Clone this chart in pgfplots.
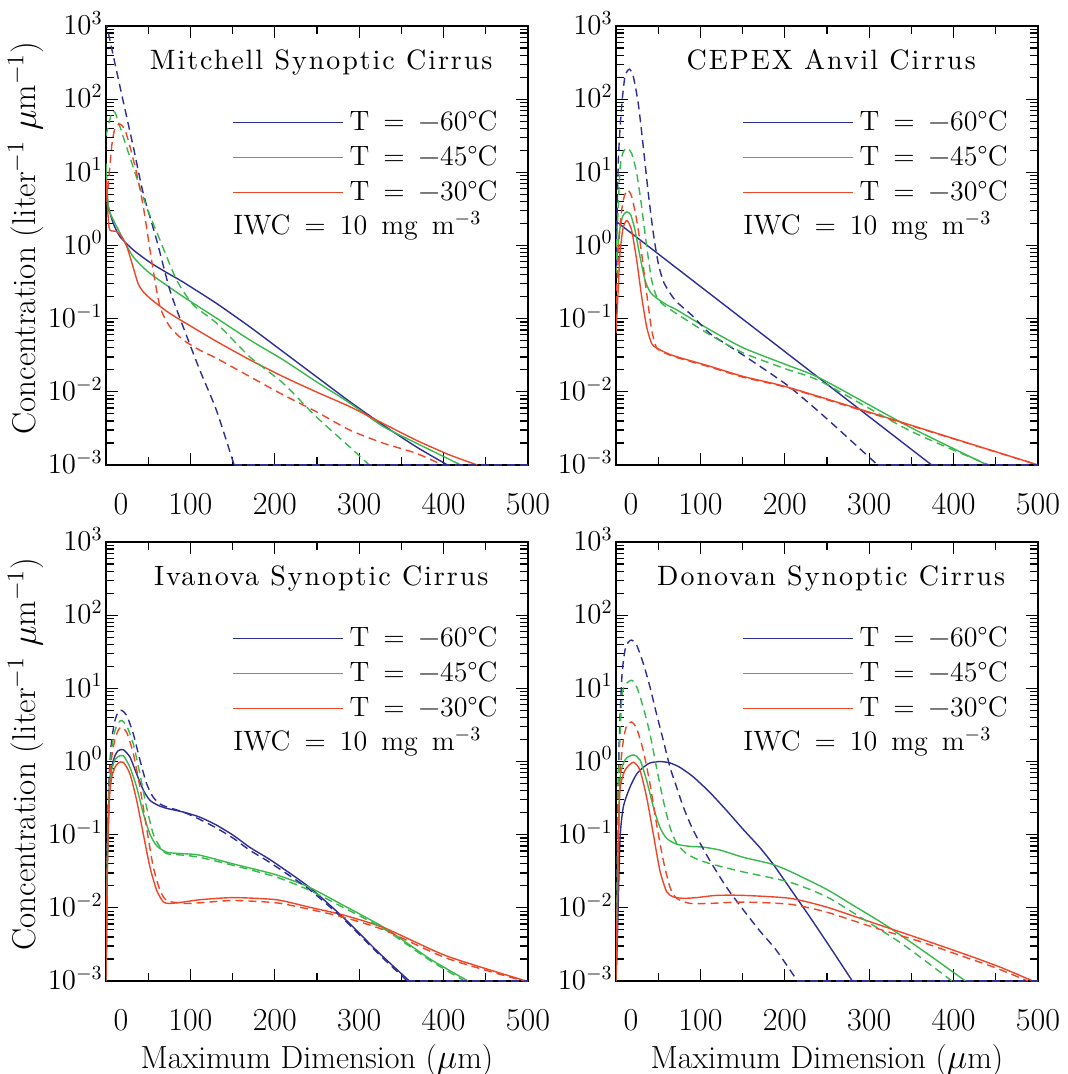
\documentclass[border=0pt]{standalone}
\usepackage{fontspec}
\usepackage{pgfplots}
\pgfplotsset{compat=1.18}
\usepgfplotslibrary{groupplots}
\newfontfamily\spfont{lmroman10-regular.otf}[LetterSpace=7]
\definecolor{cb}{RGB}{45,45,150}
\definecolor{cg}{RGB}{55,185,75}
\definecolor{cr}{RGB}{240,70,40}
\newcommand\fT{\fontsize{14}{16}\selectfont}
\pgfplotsset{
  sol/.style={line width=0.7pt, smooth, tension=0.4},
  das/.style={line width=0.7pt, smooth, tension=0.4, dash pattern=on 4pt off 2.5pt},
  flat/.style={line width=0.7pt, sharp plot, dash pattern=on 4pt off 2.5pt, forget plot},
}
\newcommand\panel[1]{%
  \node[font=\spfont\fontsize{14}{16}\selectfont, anchor=base] at (rel axis cs:0.51,0.902) {#1};
  \node[font=\fT, anchor=base west, inner sep=0pt] at (rel axis cs:0.301,0.524) {IWC\enspace=\enspace10\enspace mg\enspace m$^{-3}$};
}
\begin{document}
\begin{tikzpicture}
\begin{groupplot}[
  group style={group size=2 by 2, horizontal sep=44pt, vertical sep=38.5pt, group name=G},
  width=211pt, height=219.5pt, scale only axis,
  xmin=0, xmax=500, ymin=1e-3, ymax=1e3, ymode=log,
  xtick={0,100,200,300,400,500},
  xticklabels={\hspace*{15pt}0,100,200,300,400,500},
  minor x tick num=1,
  ytick={1e-3,1e-2,1e-1,1,1e1,1e2,1e3},
  tick align=inside, tick pos=both, xticklabel pos=lower, yticklabel pos=left,
  major tick length=6pt, minor tick length=4pt,
  every tick/.style={black, line width=0.6pt},
  axis line style={line width=0.7pt},
  xticklabel style={font=\fontsize{16}{18}\selectfont, anchor=base, yshift=-24.75pt},
  yticklabel style={font=\fontsize{13.75}{16}\selectfont, anchor=base east, yshift=-4.4pt, inner xsep=1.5pt},
  legend style={draw=none, fill=none, at={(rel axis cs:0.943,0.821)}, anchor=north east,
    inner sep=0pt, row sep=0pt, font=\fT,
    nodes={inner xsep=3pt, inner ysep=2.75pt, text height=10pt, text depth=2pt}},
  legend cell align=left,
  legend image code/.code={\draw[#1] (0pt,0pt) -- (55pt,0pt);},
]
% ---------------- Mitchell ----------------
\nextgroupplot[ylabel={Concentration (liter$^{-1}$ $\mu$m$^{-1}$)},
  ylabel style={at={([xshift=-35pt]rel axis cs:0,0.517)}, anchor=base, font=\fontsize{16.5}{18}\selectfont}]
\addplot[sol, cb] coordinates {(0,6.46)(2.8,3.39)(8.7,2.0)(16.6,1.32)(32.3,0.871)(52,0.589)(71.8,0.427)(91.4,0.316)(130.8,0.162)(170.2,0.0776)(209.6,0.0355)(249,0.0162)(288.4,0.00741)(327.8,0.00355)(367.3,0.00178)(404.6,0.001)};
\addlegendentry{T\enspace=\enspace−60°C}
\addplot[sol, cg] coordinates {(0,13.2)(2.8,3.39)(8.7,2.24)(16.6,1.48)(32,0.708)(52,0.417)(91.4,0.2)(130.8,0.102)(170.2,0.0513)(209.6,0.0275)(249,0.0138)(288.4,0.00708)(327.8,0.00339)(367.3,0.002)(420.4,0.001)};
\addlegendentry{T\enspace=\enspace−45°C}
\addplot[sol, cr] coordinates {(0,7.94)(2.8,2.24)(4.7,1.62)(12.6,1.55)(18.5,1.32)(24.5,0.977)(32,0.513)(38,0.302)(44,0.234)(52,0.19)(72,0.126)(91.4,0.0912)(130.8,0.049)(170.2,0.0275)(209.6,0.0162)(249,0.01)(288.4,0.00631)(327.8,0.00372)(367.3,0.00219)(406.6,0.00138)(440,0.001)};
\addlegendentry{T\enspace=\enspace−30°C}
\addplot[das, cb, forget plot] coordinates {(0,1200)(1.6,933)(16.6,148)(32.3,22.4)(44.2,5.13)(59.9,1.2)(75.7,0.245)(91.4,0.0776)(111,0.02)(130.8,0.00562)(151.8,0.001)};
\addplot[das, cg, forget plot] coordinates {(0,31.6)(6.7,64.6)(10.6,66.1)(16.6,41.7)(32,12.0)(48,3.39)(63.8,1.2)(83.6,0.339)(103.2,0.155)(130.8,0.0871)(170.2,0.0302)(209.6,0.0132)(249,0.00457)(288.4,0.00178)(312,0.001)};
\addplot[das, cr, forget plot] coordinates {(1,3.98)(6.7,22.4)(10.6,39.8)(16.6,45.7)(22.5,38.0)(28.4,22.4)(36.3,9.77)(44.2,3.39)(54,0.631)(63.8,0.148)(75.7,0.0776)(91.4,0.0513)(111,0.0372)(130.8,0.0288)(170.2,0.0162)(209.6,0.00912)(249,0.00537)(288.4,0.00302)(327.8,0.002)(367.3,0.00145)(398.8,0.001)};
\addplot[flat, cb] coordinates {(151.8,0.001)(500,0.001)};
\panel{Mitchell Synoptic Cirrus}
% ---------------- CEPEX ----------------
\nextgroupplot
\addplot[sol, cb] coordinates {(0,2.14)(150,0.0989)(243,0.0147)(374,0.001)};
\addlegendentry{T\enspace=\enspace−60°C}
\addplot[sol, cg] coordinates {(0,0.417)(3.9,1.48)(7.9,2.51)(12.6,2.88)(17.4,2.63)(22.5,1.62)(28.4,0.708)(34.3,0.339)(40.2,0.234)(48.1,0.191)(60,0.155)(71.8,0.132)(111,0.0708)(151,0.0398)(202,0.0234)(243,0.0151)(348,0.00331)(440,0.001)};
\addlegendentry{T\enspace=\enspace−45°C}
\addplot[sol, cr] coordinates {(0,0.0631)(2.8,0.275)(4.7,0.776)(7.9,1.62)(10.6,2.04)(13.4,2.19)(18.5,1.62)(24.5,0.631)(30.4,0.2)(36.3,0.0776)(42.2,0.0457)(48.1,0.0398)(60,0.0339)(71.8,0.0302)(111,0.0224)(151,0.0162)(202,0.0117)(292.5,0.00562)(500,0.001)};
\addlegendentry{T\enspace=\enspace−30°C}
\addplot[das, cb, forget plot] coordinates {(0,0.5)(2.8,14.8)(6.7,79.4)(10.6,204)(15.8,257)(20.5,204)(26.4,87.1)(32.3,22.4)(38.3,5.13)(44.2,1.48)(50,0.575)(56,0.324)(64,0.224)(71.8,0.170)(91.5,0.107)(111,0.0631)(151,0.0316)(203,0.0123)(249,0.00437)(310,0.001)};
\addplot[das, cg, forget plot] coordinates {(0,0.63)(4.7,10.7)(8.7,19.1)(13.4,21.4)(18.5,18.2)(24.5,9.77)(30.4,3.39)(36.3,0.977)(42.2,0.339)(48.1,0.2)(56,0.155)(71.8,0.117)(111,0.0603)(151,0.0339)(202,0.0204)(243,0.0138)(348,0.00295)(442,0.001)};
\addplot[das, cr, forget plot] coordinates {(0,0.158)(4.7,1.82)(8.7,4.17)(13.4,5.75)(18.5,4.68)(24.5,2.24)(30.4,0.776)(36.3,0.224)(42.2,0.0708)(48.1,0.0398)(56,0.0347)(71.8,0.0295)(111,0.0219)(151,0.0158)(202,0.0115)(292.5,0.0055)(500,0.001)};
\addplot[flat, cb] coordinates {(310,0.001)(500,0.001)};
\panel{CEPEX Anvil Cirrus}
% ---------------- Ivanova ----------------
\nextgroupplot[ylabel={Concentration (liter$^{-1}$ $\mu$m$^{-1}$)},
  ylabel style={at={([xshift=-35pt]rel axis cs:0,0.517)}, anchor=base, font=\fontsize{16.5}{18}\selectfont},
  xlabel={Maximum Dimension ($\mu$m)},
  xlabel style={at={([yshift=-43.5pt]rel axis cs:0.5,0)}, anchor=base, font=\fontsize{16}{18}\selectfont}]
\addplot[sol, cb] coordinates {(0,0.001)(1.6,0.049)(3.9,0.447)(6.7,0.832)(10.6,1.20)(14.6,1.41)(20.5,1.45)(28.4,1.15)(36.3,0.676)(44.2,0.407)(52,0.295)(62,0.251)(71.8,0.229)(91.5,0.204)(111,0.174)(131,0.135)(151,0.0977)(170,0.0676)(190,0.049)(202,0.0398)(241,0.0191)(282,0.00724)(323,0.00245)(359.5,0.001)};
\addlegendentry{T\enspace=\enspace−60°C}
\addplot[sol, cg] coordinates {(0,0.001)(1.6,0.0398)(3.9,0.355)(6.7,0.759)(10.6,1.05)(14.6,1.17)(20.5,1.20)(28.4,0.832)(36.3,0.447)(44.2,0.195)(52,0.102)(60,0.0708)(72,0.0575)(91.5,0.055)(111,0.0525)(151,0.0398)(202,0.0282)(241,0.0191)(282,0.0107)(331,0.00525)(384,0.002)(429,0.001)};
\addlegendentry{T\enspace=\enspace−45°C}
\addplot[sol, cr] coordinates {(0,0.001)(1.6,0.0316)(3.9,0.282)(6.7,0.603)(10.6,0.832)(14.6,0.955)(20.5,0.977)(28.4,0.676)(36.3,0.295)(44.2,0.102)(52,0.0363)(60,0.0174)(68,0.012)(76,0.0115)(91.5,0.012)(111,0.0129)(151,0.0138)(202,0.0129)(241,0.0102)(282,0.00794)(331,0.00525)(404,0.00219)(498,0.001)};
\addlegendentry{T\enspace=\enspace−30°C}
\addplot[das, cb, forget plot] coordinates {(0,0.001)(1.6,0.0832)(3.9,0.676)(6.7,1.95)(10.6,3.63)(14.6,4.79)(18.5,5.01)(24.5,4.27)(32.3,2.40)(40.2,1.05)(48,0.501)(56,0.324)(64,0.263)(71.8,0.240)(91.5,0.204)(111,0.162)(131,0.123)(151,0.0891)(170,0.0617)(190,0.0447)(202,0.0363)(241,0.0178)(282,0.00692)(323,0.00234)(357,0.001)};
\addplot[das, cg, forget plot] coordinates {(0,0.001)(1.6,0.0631)(3.9,0.501)(6.7,1.48)(10.6,2.63)(14.6,3.39)(18.5,3.63)(24.5,3.09)(32.3,1.74)(40.2,0.676)(48,0.240)(56,0.102)(64,0.0676)(72,0.055)(91.5,0.0525)(111,0.049)(151,0.038)(202,0.0263)(241,0.0174)(282,0.01)(331,0.00501)(384,0.00191)(425,0.001)};
\addplot[das, cr, forget plot] coordinates {(0,0.001)(1.6,0.05)(3.9,0.398)(6.7,1.12)(10.6,2.0)(14.6,2.69)(18.5,2.95)(24.5,2.51)(32.3,1.29)(40.2,0.447)(48,0.126)(56,0.0363)(64,0.0174)(72,0.0126)(91.5,0.0115)(111,0.0117)(151,0.0126)(202,0.0117)(241,0.00955)(282,0.00741)(331,0.0049)(404,0.00204)(495,0.001)};
\addplot[flat, cb] coordinates {(357,0.001)(500,0.001)};
\panel{Ivanova Synoptic Cirrus}
% ---------------- Donovan ----------------
\nextgroupplot[xlabel={Maximum Dimension ($\mu$m)},
  xlabel style={at={([yshift=-43.5pt]rel axis cs:0.5,0)}, anchor=base, font=\fontsize{16}{18}\selectfont}]
\addplot[sol, cb] coordinates {(0,0.001)(1.6,0.00363)(4.7,0.0832)(8.7,0.240)(16.6,0.447)(24.5,0.676)(32.3,0.832)(40.2,0.955)(52,1.0)(64,0.955)(75.7,0.832)(91.5,0.617)(111,0.380)(131,0.214)(151,0.117)(170,0.0676)(186,0.0398)(206,0.0186)(230,0.00741)(255,0.00275)(280,0.001)};
\addlegendentry{T\enspace=\enspace−60°C}
\addplot[sol, cg] coordinates {(0,0.001)(2,0.0316)(4.7,0.55)(10.6,1.05)(20.5,1.23)(28.4,1.05)(36.3,0.55)(44.2,0.240)(52,0.126)(60,0.0891)(71.8,0.0741)(87.6,0.0692)(103,0.0676)(123,0.0617)(151,0.049)(184,0.0398)(206,0.0316)(250,0.0178)(280,0.011)(320,0.00575)(368,0.0024)(414,0.001)};
\addlegendentry{T\enspace=\enspace−45°C}
\addplot[sol, cr] coordinates {(0,0.001)(2.8,0.0631)(4.7,0.407)(10.6,0.759)(20.5,0.977)(28.4,0.759)(36.3,0.324)(44.2,0.102)(52,0.0324)(60,0.0166)(68,0.0141)(79.7,0.0135)(95.5,0.0138)(119,0.0148)(151,0.0148)(206,0.0135)(250,0.0102)(308.5,0.00603)(360,0.0038)(415,0.00229)(455,0.00155)(494,0.001)};
\addlegendentry{T\enspace=\enspace−30°C}
\addplot[das, cb, forget plot] coordinates {(0,0.001)(2.8,0.676)(6.7,12.9)(10.6,33.1)(14.6,42.7)(18.5,45.7)(24.5,38.9)(32.3,21.9)(40.2,10.5)(48,4.47)(56,1.95)(64,0.832)(71.8,0.447)(79.7,0.240)(91.5,0.115)(111,0.0447)(131,0.0191)(151,0.00933)(170,0.0049)(190,0.00263)(215,0.001)};
\addplot[das, cg, forget plot] coordinates {(0,0.001)(2.8,0.398)(6.7,6.92)(10.6,11.0)(18.5,12.9)(24.5,10.5)(32.3,5.5)(40.2,2.40)(48,0.832)(56,0.295)(64,0.126)(72,0.0759)(83.6,0.055)(99,0.0447)(119,0.038)(151,0.0309)(206,0.0224)(250,0.0141)(292.5,0.00708)(340,0.00316)(398,0.001)};
\addplot[das, cr, forget plot] coordinates {(0,0.001)(2.8,0.1)(4.7,0.676)(8.7,1.95)(12.6,3.09)(18.5,3.47)(24.5,2.82)(32.3,1.41)(40.2,0.501)(48,0.141)(56,0.0447)(64,0.0191)(71.8,0.0135)(87.6,0.0115)(111,0.0115)(151,0.012)(206,0.0112)(250,0.00871)(308.5,0.00525)(360,0.00347)(415,0.00209)(450,0.00151)(488,0.001)};
\addplot[flat, cb] coordinates {(215,0.001)(500,0.001)};
\panel{Donovan Synoptic Cirrus}
\end{groupplot}
\pgfresetboundingbox
\path[use as bounding box] ([shift={(-53pt,13pt)}]G c1r1.north west) rectangle ([shift={(14.75pt,-46.5pt)}]G c2r2.south east);
\end{tikzpicture}
\end{document}
